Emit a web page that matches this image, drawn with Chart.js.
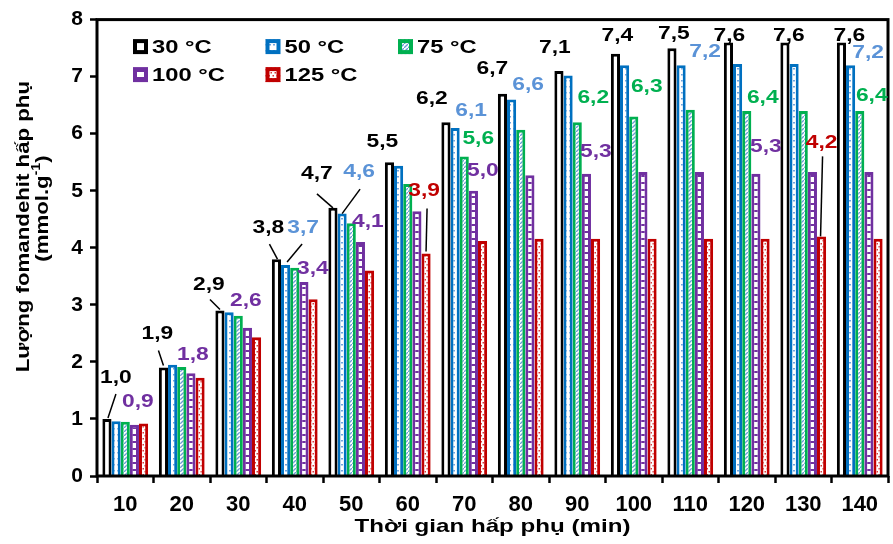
<!DOCTYPE html>
<html>
<head>
<meta charset="utf-8">
<script src="https://cdn.jsdelivr.net/npm/chart.js@4.4.1/dist/chart.umd.min.js"></script>
<style>
  html, body { margin: 0; padding: 0; background: #fff; }
  #wrap { width: 893px; height: 544px; position: relative; }
</style>
</head>
<body>
<div id="wrap"><canvas id="chart" width="893" height="544"></canvas></div>
<script>
// ---- data ----
const categories = ['10', '20', '30', '40', '50', '60', '70', '80', '90', '100', '110', '120', '130', '140'];
const seriesNames = ['30 °C', '50 °C', '75 °C', '100 °C', '125 °C'];
const t30  = [1.0, 1.9, 2.9, 3.8, 4.7, 5.5, 6.2, 6.7, 7.1, 7.4, 7.5, 7.6, 7.6, 7.6];
const t50  = [0.96, 1.95, 2.87, 3.7, 4.6, 5.44, 6.1, 6.6, 7.02, 7.2, 7.2, 7.22, 7.22, 7.2];
const t75  = [0.95, 1.91, 2.81, 3.65, 4.43, 5.12, 5.6, 6.07, 6.2, 6.3, 6.42, 6.4, 6.4, 6.4];
const t100 = [0.9, 1.8, 2.6, 3.4, 4.1, 4.64, 5.0, 5.27, 5.3, 5.33, 5.33, 5.3, 5.33, 5.33];
const t125 = [0.92, 1.72, 2.43, 3.1, 3.6, 3.9, 4.12, 4.16, 4.16, 4.16, 4.16, 4.16, 4.2, 4.16];
const yTickValues = [0, 1, 2, 3, 4, 5, 6, 7, 8];

// ---- styling ----
const FONT = "'Liberation Sans', Arial, 'DejaVu Sans', sans-serif";
const TEXT = 'bold 19px ' + FONT;
const borderColors = ['#000000', '#0070C0', '#00B050', '#7030A0', '#C00000'];
const labelColors  = ['#000000', '#5B93D7', '#00B050', '#7030A0', '#C00000'];

function makePattern(w, h, paint) {
  const c = document.createElement('canvas');
  c.width = w; c.height = h;
  const g = c.getContext('2d');
  g.fillStyle = '#ffffff';
  g.fillRect(0, 0, w, h);
  paint(g);
  return g.createPattern(c, 'repeat');
}
const fills = [
  '#ffffff',
  // small light-blue dots
  makePattern(4, 6, g => { g.fillStyle = '#6FA3DE'; g.fillRect(1, 2, 2, 1.5); }),
  // blue diagonal hatch
  makePattern(4, 4, g => {
    g.strokeStyle = '#6A9BD5'; g.lineWidth = 1.3;
    g.beginPath(); g.moveTo(-1, 5); g.lineTo(5, -1); g.stroke();
  }),
  // purple horizontal rungs
  makePattern(4, 7, g => { g.fillStyle = '#7030A0'; g.fillRect(0, 0, 4, 2); }),
  // red dotted zigzag
  makePattern(4, 6, g => {
    g.fillStyle = '#D63B3B';
    g.fillRect(2.5, 0, 1.5, 1.5); g.fillRect(0.5, 3, 1.5, 1.5);
  })
];

const seriesValues = [t30, t50, t75, t100, t125];

// value labels: which bar, where the text sits relative to the bar top, optional leader line
const labelSpecs = [
  { s: 0, i: 0,  dx: 9,   dy: -41, lead: [9, -25, 1, -1] },
  { s: 0, i: 1,  dx: -6,  dy: -34, lead: [-5, -17, 0, -2] },
  { s: 0, i: 2,  dx: -11, dy: -26, lead: [-10, -11, 0, -1] },
  { s: 0, i: 3,  dx: -8,  dy: -31, lead: [-7, -15, 1, 0] },
  { s: 0, i: 4,  dx: -16, dy: -34, lead: [-16, -14, 0, 0] },
  { s: 0, i: 5,  dx: -7,  dy: -20 },
  { s: 0, i: 6,  dx: -14, dy: -24 },
  { s: 0, i: 7,  dx: -10, dy: -25 },
  { s: 0, i: 8,  dx: -4,  dy: -23 },
  { s: 0, i: 9,  dx: 2,   dy: -18 },
  { s: 0, i: 10, dx: 2,   dy: -14 },
  { s: 0, i: 11, dx: 1,   dy: -7 },
  { s: 0, i: 12, dx: 4,   dy: -7 },
  { s: 0, i: 13, dx: 8,   dy: -7 },
  { s: 1, i: 3,  dx: 17.5, dy: -37, lead: [16.5, -21, 1.5, -3] },
  { s: 1, i: 4,  dx: 17,  dy: -41.5, lead: [18, -24.5, 0, 0] },
  { s: 1, i: 6,  dx: 16,  dy: -17 },
  { s: 1, i: 7,  dx: 16.5, dy: -14.5 },
  { s: 1, i: 10, dx: 24,  dy: -13 },
  { s: 1, i: 13, dx: 17.5, dy: -12 },
  { s: 2, i: 6,  dx: 14,  dy: -18 },
  { s: 2, i: 8,  dx: 16,  dy: -24.5 },
  { s: 2, i: 9,  dx: 13,  dy: -30 },
  { s: 2, i: 11, dx: 16,  dy: -13 },
  { s: 2, i: 13, dx: 12,  dy: -15 },
  { s: 3, i: 0,  dx: 3.5, dy: -23 },
  { s: 3, i: 1,  dx: 2,   dy: -18.5 },
  { s: 3, i: 2,  dx: -1.5, dy: -26.5 },
  { s: 3, i: 3,  dx: 9,   dy: -13.5 },
  { s: 3, i: 4,  dx: 7.5, dy: -20 },
  { s: 3, i: 6,  dx: 9.5, dy: -19.5 },
  { s: 3, i: 8,  dx: 9.5, dy: -22 },
  { s: 3, i: 11, dx: 10,  dy: -27 },
  { s: 4, i: 5,  dx: -2,  dy: -63, lead: [1, -45, 0, -2] },
  { s: 4, i: 12, dx: 0,   dy: -94, lead: [1, -80, -1, 0] }
];

const fmt = v => v.toFixed(1).replace('.', ',');

// draw text with a horizontal stretch factor (wide lettering)
function wideText(ctx, text, x, y, sx, align) {
  ctx.save();
  ctx.translate(x, y);
  ctx.scale(sx, 1);
  ctx.textAlign = align || 'center';
  ctx.fillText(text, 0, 0);
  ctx.restore();
}

// frame around the plot area
const framePlugin = {
  id: 'frame',
  afterDatasetsDraw(chart) {
    const { ctx, chartArea: a } = chart;
    ctx.save();
    ctx.strokeStyle = '#000'; ctx.lineWidth = 3;
    ctx.strokeRect(a.left, a.top, a.right - a.left, a.bottom - a.top);
    ctx.restore();
  }
};

// value labels with leader lines
const valueLabelPlugin = {
  id: 'valueLabels',
  afterDatasetsDraw(chart) {
    const ctx = chart.ctx;
    ctx.save();
    ctx.font = TEXT;
    ctx.textBaseline = 'middle';
    labelSpecs.forEach(sp => {
      const bar = chart.getDatasetMeta(sp.s).data[sp.i];
      const v = chart.data.datasets[sp.s].data[sp.i];
      if (sp.lead) {
        ctx.strokeStyle = '#000'; ctx.lineWidth = 1.5;
        ctx.beginPath();
        ctx.moveTo(bar.x + sp.lead[0], bar.y + sp.lead[1]);
        ctx.lineTo(bar.x + sp.lead[2], bar.y + sp.lead[3]);
        ctx.stroke();
      }
      ctx.fillStyle = labelColors[sp.s];
      wideText(ctx, fmt(v), bar.x + sp.dx, bar.y + sp.dy, 1.2);
    });
    ctx.restore();
  }
};

// legend in a 3-column grid inside the plot area
const gridLegendPlugin = {
  id: 'gridLegend',
  afterDatasetsDraw(chart) {
    const { ctx, chartArea: a } = chart;
    ctx.save();
    ctx.font = TEXT;
    ctx.textBaseline = 'middle';
    chart.data.datasets.forEach((ds, k) => {
      const col = k % 3, row = Math.floor(k / 3);
      const x = a.left + 36 + col * 132.5;
      const y = a.top + 27 + row * 28;
      ctx.fillStyle = ds.backgroundColor;
      ctx.fillRect(x, y - 7.5, 15, 15);
      ctx.strokeStyle = ds.borderColor; ctx.lineWidth = 4;
      ctx.strokeRect(x + 2, y - 5.5, 11, 11);
      ctx.fillStyle = '#000';
      wideText(ctx, ds.label, x + 19, y + 1, 1.25, 'left');
    });
    ctx.restore();
  }
};

// axis titles
const axisTitlePlugin = {
  id: 'axisTitles',
  afterDraw(chart) {
    const { ctx, chartArea: a } = chart;
    ctx.save();
    ctx.fillStyle = '#000';
    ctx.font = TEXT;
    ctx.textBaseline = 'middle';
    // x title
    wideText(ctx, 'Thời gian hấp phụ (min)', (a.left + a.right) / 2, a.bottom + 51, 1.27);
    // y title, first rotated line
    ctx.save();
    ctx.translate(24, a.top + 207);
    ctx.rotate(-Math.PI / 2);
    wideText(ctx, 'Lượng fomandehit hấp phụ', 0, 0, 1.17);
    ctx.restore();
    // y title, unit line with superscript
    ctx.save();
    ctx.translate(43, a.top + 189);
    ctx.rotate(-Math.PI / 2);
    ctx.scale(1.17, 1);
    const base = '(mmol.g', sup = '-1', tail = ')';
    const supFont = 'bold 12px ' + FONT;
    const wBase = ctx.measureText(base).width;
    const wTail = ctx.measureText(tail).width;
    ctx.font = supFont;
    const wSup = ctx.measureText(sup).width;
    const total = wBase + wSup + wTail;
    ctx.textAlign = 'left';
    let x = -total / 2;
    ctx.font = TEXT;
    ctx.fillText(base, x, 0); x += wBase;
    ctx.font = supFont;
    ctx.fillText(sup, x, -6); x += wSup;
    ctx.font = TEXT;
    ctx.fillText(tail, x, 0);
    ctx.restore();
    ctx.restore();
  }
};

const datasets = seriesNames.map((name, k) => ({
  label: name,
  data: seriesValues[k],
  backgroundColor: fills[k],
  borderColor: borderColors[k],
  borderWidth: 3,
  borderSkipped: 'start',
  categoryPercentage: 0.81,
  barPercentage: 1.0
}));

new Chart(document.getElementById('chart'), {
  type: 'bar',
  data: { labels: categories, datasets },
  options: {
    responsive: false,
    animation: false,
    devicePixelRatio: 1,
    layout: { padding: { top: 16, right: 5, bottom: 0, left: 0 } },
    plugins: { legend: { display: false }, tooltip: { enabled: false } },
    scales: {
      x: {
        grid: { display: true, drawOnChartArea: false, drawTicks: true, tickLength: 7, tickWidth: 2.5, tickColor: '#000', offset: true },
        border: { display: false },
        ticks: { color: '#000', font: { family: FONT, size: 22, weight: 'bold' }, padding: 9, maxRotation: 0, autoSkip: false },
        afterFit(scale) { scale.height = 68; }
      },
      y: {
        min: 0, max: 8,
        afterBuildTicks(scale) { scale.ticks = yTickValues.map(v => ({ value: v })); },
        grid: { display: true, drawOnChartArea: false, drawTicks: true, tickLength: 7, tickWidth: 2.5, tickColor: '#000' },
        border: { display: false },
        ticks: { color: '#000', font: { family: FONT, size: 21, weight: 'bold' }, padding: 7 },
        afterFit(scale) { scale.width = 97; }
      }
    }
  },
  plugins: [framePlugin, valueLabelPlugin, gridLegendPlugin, axisTitlePlugin]
});
</script>
</body>
</html>
